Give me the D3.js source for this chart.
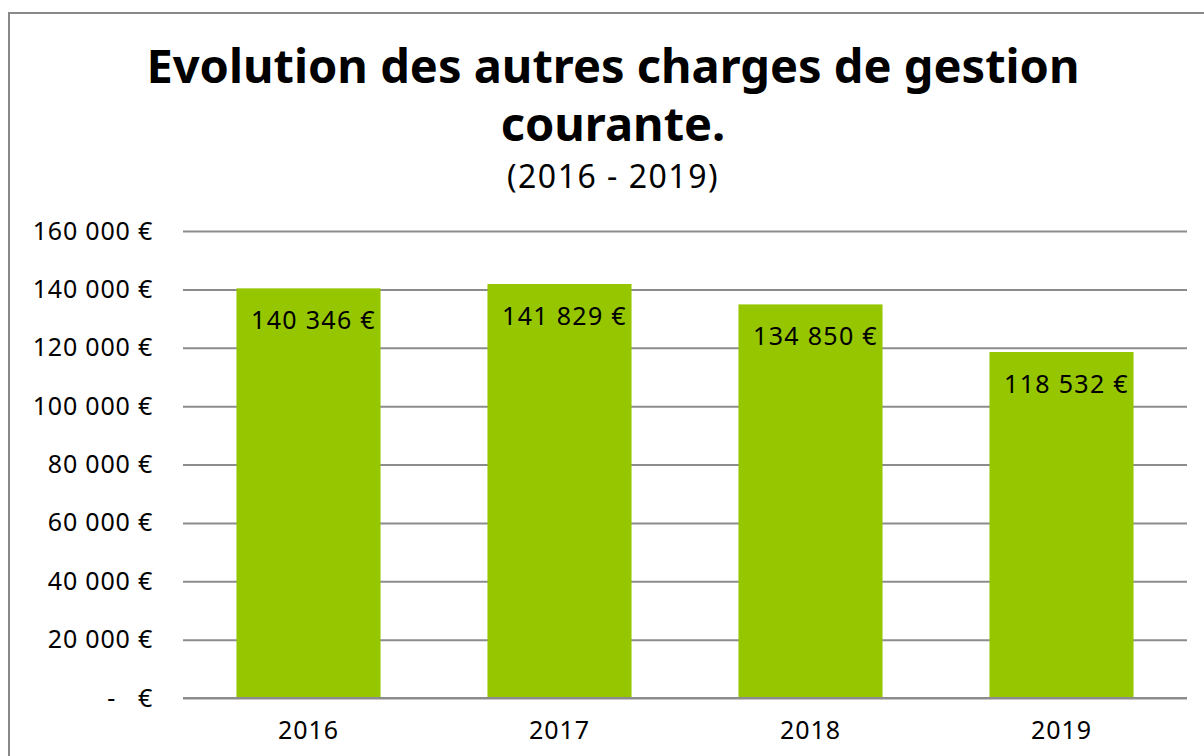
<!DOCTYPE html>
<html>
<head>
<meta charset="utf-8">
<script src="https://cdn.jsdelivr.net/npm/d3@7"></script>
<style>
  body { margin: 0; background: #fff; }
  text { font-family: "Noto Sans", "DejaVu Sans", sans-serif; fill: #000; }
</style>
</head>
<body>
<div id="chart"></div>
<script>
const years = ["2016", "2017", "2018", "2019"];
const charges = [140346, 141829, 134850, 118532];
const yTicks = [0, 20000, 40000, 60000, 80000, 100000, 120000, 140000, 160000];
const titleLines = ["Evolution des autres charges de gestion", "courante."];
const subtitle = "(2016 - 2019)";

const W = 1204, H = 756;
const margin = { top: 231, right: 17, bottom: 58, left: 183 },
    width = W - margin.left - margin.right,
    height = H - margin.top - margin.bottom;

const svg = d3.select("#chart").append("svg")
    .attr("width", W)
    .attr("height", H);

// chart frame (cropped on right and bottom)
svg.append("rect")
    .attr("x", 9).attr("y", 13)
    .attr("width", W).attr("height", H)
    .attr("fill", "none")
    .attr("stroke", "#898989")
    .attr("stroke-width", 2);

// titles
svg.selectAll(".title")
    .data(titleLines)
    .enter().append("text")
    .attr("class", "title")
    .attr("x", 613)
    .attr("y", (d, i) => 83 + i * 58)
    .attr("text-anchor", "middle")
    .style("font-size", "47px")
    .style("font-weight", "bold")
    .text(d => d);

svg.append("text")
    .attr("x", 613).attr("y", 188)
    .attr("text-anchor", "middle")
    .style("font-size", "32px")
    .style("letter-spacing", "1.5px")
    .text(subtitle);

const g = svg.append("g")
    .attr("transform", "translate(" + margin.left + "," + margin.top + ")");

const xScale = d3.scaleBand().domain(years).range([0, width]).paddingInner(0.426).paddingOuter(0.213);
const yScale = d3.scaleLinear().domain([0, 160000]).range([height, 0]);

const fmt = d3.formatLocale({ thousands: "\u00a0", grouping: [3], decimal: "," }).format(",d");
const euro = d => d === 0 ? "-\u00a0\u00a0\u00a0€" : fmt(d) + " €";

const yAxis = d3.axisLeft(yScale)
    .tickValues(yTicks)
    .tickSize(-width)
    .tickPadding(30)
    .tickFormat(euro);

const yg = g.append("g").call(yAxis);
yg.select(".domain").remove();
yg.selectAll(".tick line").attr("stroke", "#8c8c8c").attr("stroke-width", 2);
yg.selectAll(".tick text")
    .style("font-size", "25px")
    .style("letter-spacing", "0.8px")
    .style("font-family", "'Noto Sans', sans-serif")
    .attr("fill", "#000");

// bars
g.selectAll(".bar")
    .data(charges)
    .enter().append("rect")
    .attr("class", "bar")
    .attr("x", (d, i) => xScale(years[i]))
    .attr("y", d => yScale(d))
    .attr("width", xScale.bandwidth())
    .attr("height", d => height - yScale(d))
    .attr("fill", "#95c600");

// redraw baseline on top
g.append("line")
    .attr("x1", 0).attr("x2", width)
    .attr("y1", height).attr("y2", height)
    .attr("stroke", "#8c8c8c").attr("stroke-width", 2);

// data labels
g.selectAll(".lbl")
    .data(charges)
    .enter().append("text")
    .attr("class", "lbl")
    .attr("x", (d, i) => xScale(years[i]) + xScale.bandwidth() / 2 + 5)
    .attr("y", d => yScale(d) + 41)
    .attr("text-anchor", "middle")
    .style("font-size", "25px")
    .style("letter-spacing", "1.3px")
    .text(d => fmt(d) + " €");

// x axis
const xAxis = d3.axisBottom(xScale).tickSize(0).tickPadding(23);
const xg = g.append("g")
    .attr("transform", "translate(0," + height + ")")
    .call(xAxis);
xg.select(".domain").remove();
xg.selectAll(".tick text")
    .style("font-size", "25px")
    .style("letter-spacing", "1px")
    .style("font-family", "'Noto Sans', sans-serif")
    .attr("fill", "#000");
</script>
</body>
</html>
